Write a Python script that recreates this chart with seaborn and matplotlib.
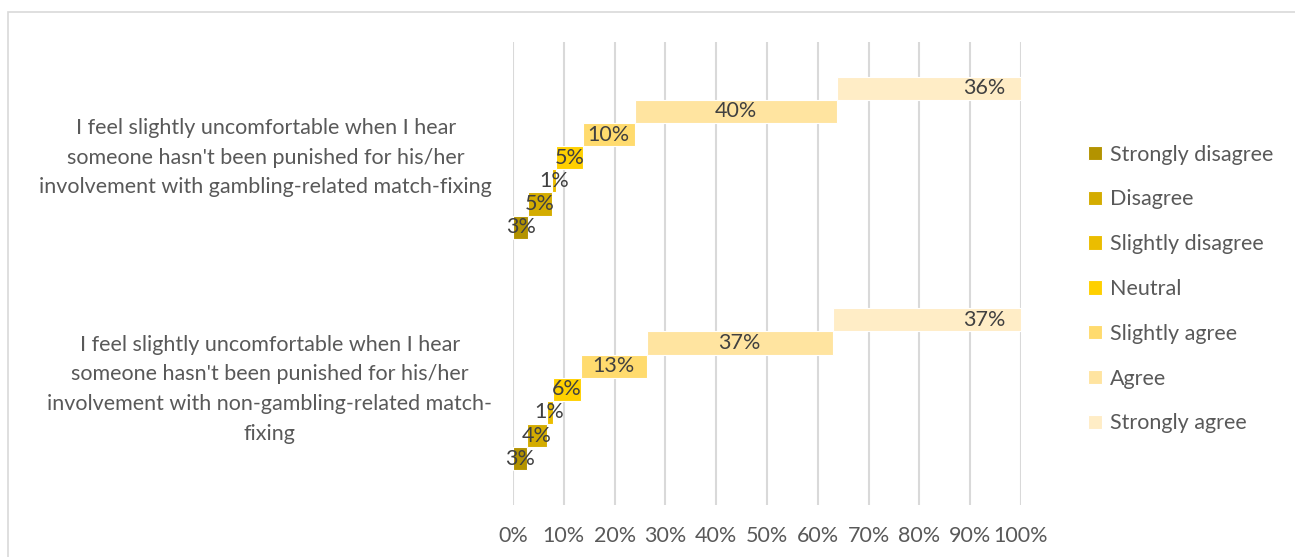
import numpy as np
import pandas as pd
import matplotlib
matplotlib.use("Agg")
import matplotlib.pyplot as plt
import seaborn as sns
from matplotlib.patches import Rectangle

# ---- data ----
questions = [
    "I feel slightly uncomfortable when I hear\nsomeone hasn't been punished for his/her\ninvolvement with non-gambling-related match-\nfixing",
    "I feel slightly uncomfortable when I hear\nsomeone hasn't been punished for his/her\ninvolvement with gambling-related match-fixing",
]
series = ["Strongly disagree", "Disagree", "Slightly disagree", "Neutral",
          "Slightly agree", "Agree", "Strongly agree"]
non_gambling = [2.7, 3.9, 1.2, 5.6, 12.9, 36.6, 37.1]
gambling = [3.0, 4.6, 0.9, 5.2, 10.3, 39.8, 36.2]
x_ticks = [0, 10, 20, 30, 40, 50, 60, 70, 80, 90, 100]
colors = ["#B39300", "#D4AC00", "#EBBD00", "#FFD000", "#FFDB6E", "#FFE4A0", "#FFEDC6"]

sns.set_theme(style="white")
plt.rcParams['font.family'] = ['Lato', 'DejaVu Sans']
TXT = "#595959"
FS = 15.5

W, H = 1295, 557
fig = plt.figure(figsize=(W / 100, H / 100), dpi=100)
ax = fig.add_axes([513 / W, 1 - 505 / H, (1021 - 513) / W, (505 - 42) / H])

values = np.array([non_gambling, gambling])
lefts = np.cumsum(values, axis=1) - values
slot = 0.1
for i, name in enumerate(series):
    df = pd.DataFrame({"value": values[:, i], "left": lefts[:, i],
                       "pos": np.arange(len(questions)) + (i - 3) * slot})
    sns.barplot(data=df, x="value", y="pos", orient="y", native_scale=True,
                width=slot, left=df["left"].to_numpy(), color=colors[i],
                saturation=1, edgecolor="white", linewidth=0.8,
                errorbar=None, label=name, ax=ax)

for i, cont in enumerate(ax.containers):
    labs = [f"{v:.0f}%" for v in values[:, i]]
    if i == len(series) - 1:
        texts = ax.bar_label(cont, labels=labs, padding=-11, fontsize=FS, color="#404040")
        for t in texts:
            t.set_ha("right")
    else:
        ax.bar_label(cont, labels=labs, label_type="center", fontsize=FS, color="#404040")

ax.set_xlim(0, 100)
ax.set_ylim(-0.5, 1.5)
ax.set_xticks(x_ticks, labels=[f"{t}%" for t in x_ticks])
ax.set_yticks(range(len(questions)), labels=questions)
for lab in ax.get_yticklabels():
    lab.set_multialignment("center")
    lab.set_linespacing(1.6)
    lab.set_verticalalignment("center")
ax.set_xlabel("")
ax.set_ylabel("")
ax.xaxis.grid(True, color="#D9D9D9", linewidth=1.5)
ax.yaxis.grid(False)
ax.set_axisbelow(True)
for s in ax.spines.values():
    s.set_visible(False)
ax.tick_params(axis="x", length=0, pad=15, labelsize=FS, labelcolor=TXT)
ax.tick_params(axis="y", length=0, pad=15, labelsize=FS, labelcolor=TXT)

ax.legend(handles=list(ax.containers), labels=series, loc="center left",
          bbox_to_anchor=(1088 / W, 1 - 289 / H), bbox_transform=fig.transFigure,
          frameon=False, borderpad=0, borderaxespad=0, handlelength=0.65,
          handleheight=0.65, handletextpad=0.35, labelspacing=1.15,
          fontsize=FS, labelcolor=TXT)

fig.add_artist(Rectangle((8 / W, -0.05), 1.2, 1 - 12 / H + 0.05,
                         transform=fig.transFigure, fill=False,
                         edgecolor="#D9D9D9", linewidth=1.2, clip_on=False))

fig.savefig("out.png", dpi=100)
